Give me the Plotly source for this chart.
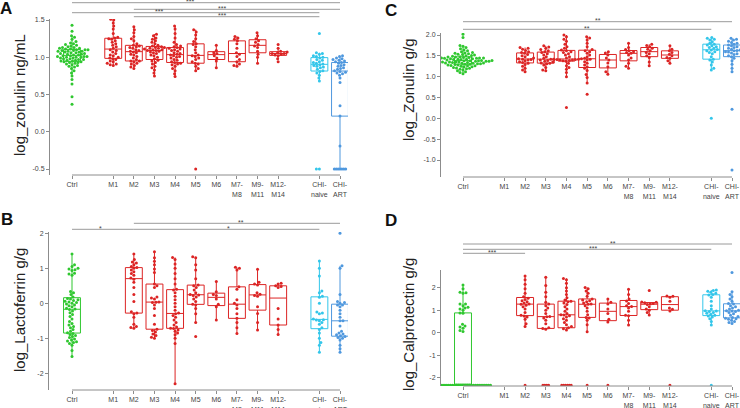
import plotly.graph_objects as go
from collections import Counter

W, H = 740, 408

cats = ["Ctrl", "M1", "M2", "M3", "M4", "M5", "M6", "M7-M8", "M9-M11", "M12-M14", "CHI-naive", "CHI-ART"]
cat_text = ["Ctrl", "M1", "M2", "M3", "M4", "M5", "M6", "M7-<br>M8", "M9-<br>M11", "M12-<br>M14", "CHI-<br>naive", "CHI-<br>ART"]
cat_pos = [0, 2, 3, 4, 5, 6, 7, 8, 9, 10, 12, 13]

GREEN, RED, CYAN, BLUE = "#2fc72f", "#dc2424", "#33c6ea", "#4f98de"
colors = [GREEN] + [RED] * 9 + [CYAN, BLUE]

# ---- A: log_zonulin ng/mL (serum)
a_ctrl = [0.37, 0.47, 0.64, 0.70, 0.75, 0.79, 0.82, 0.85, 0.87, 0.88, 0.89, 0.90, 0.91, 0.92, 0.93, 0.93, 0.94, 0.94,
          0.95, 0.95, 0.96, 0.96, 0.97, 0.97, 0.98, 0.98, 0.99, 0.99, 1.00, 1.00, 1.00, 1.01, 1.01, 1.01, 1.02, 1.02,
          1.03, 1.03, 1.04, 1.04, 1.05, 1.05, 1.06, 1.06, 1.07, 1.07, 1.08, 1.08, 1.08, 1.09, 1.09, 1.10, 1.10, 1.10,
          1.11, 1.11, 1.12, 1.12, 1.13, 1.13, 1.14, 1.15, 1.16, 1.17, 1.18, 1.19, 1.21, 1.24, 1.27, 1.29, 1.35, 1.43]
a_m1 = [0.89, 0.90, 0.91, 0.92, 0.94, 0.95, 0.97, 0.98, 0.99, 1.00, 1.02, 1.03, 1.05, 1.07, 1.09, 1.10,
        1.12, 1.14, 1.16, 1.18, 1.20, 1.22, 1.24, 1.25, 1.26, 1.27, 1.32, 1.38, 1.42, 1.46, 1.50, 1.51]
a_m2 = [0.85, 0.87, 0.89, 0.91, 0.92, 0.94, 0.95, 0.95, 0.97, 0.99, 1.01, 1.03, 1.04, 1.06, 1.07,
        1.08, 1.09, 1.10, 1.12, 1.13, 1.14, 1.15, 1.16, 1.18, 1.22, 1.25, 1.28, 1.33, 1.37, 1.41]
a_m3 = [0.75, 0.79, 0.83, 0.86, 0.88, 0.91, 0.93, 0.95, 0.96, 0.98, 1.00, 1.02, 1.03, 1.05, 1.06, 1.07, 1.08, 1.09,
        1.09, 1.10, 1.10, 1.11, 1.12, 1.12, 1.13, 1.13, 1.14, 1.15, 1.16, 1.18, 1.20, 1.22, 1.24, 1.26, 1.29, 1.31]
a_m4 = [0.74, 0.78, 0.82, 0.85, 0.88, 0.90, 0.91, 0.92, 0.93, 0.94, 0.96, 0.97, 0.99, 1.00, 1.01, 1.02, 1.03,
        1.04, 1.05, 1.06, 1.08, 1.09, 1.10, 1.11, 1.12, 1.13, 1.14, 1.15, 1.17, 1.20, 1.26, 1.32, 1.38, 1.42]
a_m5 = [-0.50, 0.82, 0.85, 0.88, 0.91, 0.92, 0.94, 0.97, 0.99, 1.01, 1.02,
        1.03, 1.06, 1.10, 1.14, 1.17, 1.18, 1.21, 1.25, 1.30, 1.34, 1.37]
a_m6 = [0.86, 0.95, 0.99, 1.02, 1.05, 1.06, 1.09, 1.16]
a_m7_8 = [0.88, 0.89, 0.91, 0.94, 0.97, 1.01, 1.04, 1.06, 1.12, 1.18, 1.22, 1.24, 1.26, 1.28]
a_m9_11 = [0.92, 1.00, 1.04, 1.08, 1.13, 1.15, 1.17, 1.20, 1.22, 1.25, 1.29, 1.33]
a_m12_14 = [0.94, 0.98, 1.02, 1.03, 1.04, 1.05, 1.05, 1.06, 1.07, 1.08, 1.12, 1.17]
a_chi_naive = [-0.50, -0.50, 0.68, 0.72, 0.76, 0.79, 0.81, 0.82, 0.84, 0.86, 0.87, 0.88, 0.89, 0.90,
               0.91, 0.92, 0.93, 0.94, 0.96, 0.97, 0.99, 1.00, 1.01, 1.02, 1.04, 1.05, 1.06, 1.32]
a_chi_art = [-0.50, -0.50, -0.50, -0.50, -0.50, -0.50, -0.50, -0.19, 0.21, 0.35, 0.66, 0.72, 0.76, 0.78, 0.79, 0.80,
             0.81, 0.82, 0.84, 0.85, 0.86, 0.88, 0.89, 0.90, 0.92, 0.93, 0.94, 0.95, 0.96, 0.97, 0.98, 0.99, 1.01, 1.02]

# ---- B: log_Lactoferrin g/g
b_ctrl = [-1.52, -1.35, -1.20, -1.15, -1.12, -1.10, -1.08, -1.05, -1.02, -0.98, -0.95, -0.92, -0.89, -0.86,
          -0.84, -0.80, -0.75, -0.70, -0.66, -0.62, -0.58, -0.52, -0.45, -0.38, -0.32, -0.27, -0.22, -0.18,
          -0.16, -0.14, -0.10, -0.07, -0.05, -0.02, 0.00, 0.02, 0.04, 0.06, 0.08, 0.10, 0.12, 0.14,
          0.18, 0.25, 0.30, 0.34, 0.80, 0.84, 0.86, 0.94, 0.96, 0.98, 1.00, 1.05, 1.10, 1.41]
b_m1 = []
b_m2 = [-0.71, -0.69, -0.66, -0.60, -0.40, -0.30, -0.28, -0.24, 0.05, 0.25, 0.45, 0.60, 0.69,
        0.72, 0.80, 0.85, 0.90, 0.95, 1.00, 1.02, 1.05, 1.10, 1.15, 1.18, 1.25, 1.41]
b_m3 = [-1.00, -0.97, -0.92, -0.88, -0.82, -0.78, -0.74, -0.60, -0.35, -0.15, -0.05, 0.02, 0.03,
        0.04, 0.12, 0.15, 0.18, 0.45, 0.50, 0.55, 0.88, 0.98, 1.10, 1.20, 1.30, 1.47]
b_m4 = [-2.30, -1.15, -1.00, -0.90, -0.85, -0.80, -0.76, -0.72, -0.71, -0.68, -0.62, -0.55, -0.48, -0.40, -0.35, -0.30,
        -0.28, -0.20, -0.10, 0.00, 0.10, 0.20, 0.30, 0.38, 0.40, 0.55, 0.70, 0.85, 1.00, 1.12, 1.25, 1.31]
b_m5 = [-0.95, -0.55, -0.30, -0.15, -0.05, -0.03, 0.05, 0.12, 0.18, 0.22, 0.24,
        0.25, 0.30, 0.38, 0.45, 0.50, 0.52, 0.70, 0.95, 1.10, 1.30, 1.33]
b_m6 = [-0.48, -0.10, -0.03, 0.12, 0.22, 0.25, 0.33, 0.62]
b_m7_8 = [-0.86, -0.70, -0.55, -0.43, -0.30, -0.15, -0.05, 0.00, 0.10, 0.40, 0.47, 0.95, 1.00, 1.03]
b_m9_11 = [-0.76, -0.55, -0.29, -0.10, 0.20, 0.22, 0.26, 0.30, 0.52, 0.55, 0.60, 0.97]
b_m12_14 = [-0.89, -0.75, -0.62, -0.45, -0.15, 0.45, 0.48, 0.50, 0.55, 0.57]
b_chi_naive = [-1.40, -1.20, -1.12, -1.00, -0.85, -0.75, -0.70, -0.60, -0.55, -0.50, -0.48, -0.47,
               -0.45, -0.30, -0.28, -0.25, 0.00, 0.17, 0.20, 0.30, 0.35, 0.78, 1.00, 1.21]
b_chi_art = [-1.40, -1.30, -1.20, -1.05, -1.00, -0.98, -0.95, -0.93, -0.90, -0.88, -0.85, -0.80, -0.65, -0.50,
             -0.50, -0.40, -0.30, -0.20, -0.10, -0.05, -0.05, 0.00, 0.02, 0.05, 0.25, 1.00, 1.07, 2.00]

# ---- C: log_Zonulin g/g (stool)
c_ctrl = [1.07, 1.10, 1.12, 1.14, 1.16, 1.18, 1.19, 1.20, 1.21, 1.22, 1.23, 1.24, 1.25, 1.26, 1.26, 1.27, 1.28, 1.28, 1.29, 1.30,
          1.30, 1.31, 1.31, 1.32, 1.32, 1.33, 1.33, 1.34, 1.34, 1.35, 1.35, 1.35, 1.36, 1.36, 1.37, 1.37, 1.37, 1.38, 1.38, 1.38,
          1.39, 1.39, 1.39, 1.40, 1.40, 1.41, 1.41, 1.42, 1.42, 1.43, 1.43, 1.44, 1.44, 1.45, 1.45, 1.45, 1.46, 1.46, 1.47, 1.47,
          1.48, 1.49, 1.50, 1.51, 1.52, 1.53, 1.54, 1.55, 1.56, 1.57, 1.58, 1.60, 1.62, 1.64, 1.67, 1.70, 1.73, 1.75, 1.94, 2.02]
c_m1 = []
c_m2 = [1.12, 1.16, 1.20, 1.25, 1.29, 1.32, 1.34, 1.36, 1.38, 1.40, 1.41, 1.42,
        1.43, 1.45, 1.48, 1.50, 1.53, 1.56, 1.58, 1.60, 1.63, 1.66, 1.68, 1.70]
c_m3 = [1.14, 1.16, 1.22, 1.28, 1.31, 1.32, 1.33, 1.35, 1.37, 1.39, 1.40, 1.42,
        1.42, 1.44, 1.48, 1.52, 1.55, 1.58, 1.60, 1.62, 1.65, 1.68, 1.71, 1.74]
c_m4 = [0.26, 1.00, 1.10, 1.18, 1.22, 1.26, 1.32, 1.37, 1.38, 1.39, 1.40, 1.40, 1.41, 1.41, 1.42, 1.42,
        1.43, 1.45, 1.48, 1.52, 1.55, 1.58, 1.60, 1.62, 1.64, 1.68, 1.72, 1.78, 1.85, 1.90, 1.96, 2.00]
c_m5 = [0.58, 0.85, 0.98, 1.05, 1.15, 1.20, 1.24, 1.28, 1.32, 1.36, 1.40, 1.42,
        1.44, 1.48, 1.52, 1.56, 1.60, 1.62, 1.65, 1.72, 1.80, 1.88, 1.93, 1.96]
c_m6 = [1.06, 1.12, 1.24, 1.33, 1.40, 1.45, 1.52, 1.57, 1.60]
c_m7_8 = [1.20, 1.25, 1.32, 1.40, 1.45, 1.52, 1.56, 1.58, 1.60, 1.62, 1.65, 1.70, 1.80]
c_m9_11 = [1.26, 1.35, 1.46, 1.50, 1.55, 1.58, 1.62, 1.66, 1.68, 1.72, 1.75, 1.78]
c_m12_14 = [1.32, 1.38, 1.44, 1.46, 1.50, 1.54, 1.58, 1.62, 1.66, 1.74]
c_chi_naive = [0.00, 1.16, 1.20, 1.28, 1.35, 1.40, 1.42, 1.48, 1.55, 1.58, 1.60, 1.62, 1.64,
               1.65, 1.68, 1.70, 1.72, 1.74, 1.76, 1.78, 1.80, 1.84, 1.88, 1.90, 1.92, 1.94]
c_chi_art = [-1.24, 0.22, 1.12, 1.20, 1.30, 1.38, 1.44, 1.48, 1.50, 1.53, 1.55, 1.57, 1.59, 1.60, 1.62,
             1.63, 1.64, 1.66, 1.68, 1.70, 1.72, 1.74, 1.76, 1.78, 1.80, 1.82, 1.85, 1.88, 1.90, 1.92]

# ---- D: log_Calprotectin g/g (-2.33 = below detection)
d_ctrl = [-2.33] * 30 + [0.05, 0.10, 0.20, 0.25, 0.30, 0.38, 0.86, 0.88, 1.00, 1.05,
                         1.10, 1.13, 1.20, 1.27, 1.28, 1.75, 1.78, 1.80, 1.95, 2.12]
d_m1 = []
d_m2 = [-2.33, 0.27, 0.40, 0.60, 0.70, 0.74, 0.78, 0.90, 1.05, 1.15, 1.22, 1.26,
        1.28, 1.32, 1.38, 1.42, 1.48, 1.53, 1.60, 1.75, 1.95, 2.15, 2.35, 2.52]
d_m3 = [-2.33] * 4 + [0.15, 0.19, 0.22, 0.40, 0.55, 0.65, 0.71, 0.72, 0.85, 1.00,
                      1.10, 1.20, 1.27, 1.35, 1.60, 1.80, 2.10, 2.46]
d_m4 = [-2.33] * 6 + [0.12, 0.18, 0.22, 0.27, 0.35, 0.45, 0.55, 0.62, 0.70, 0.75, 0.79, 0.80, 0.85, 0.95,
                      1.05, 1.15, 1.25, 1.32, 1.38, 1.40, 1.45, 1.55, 1.70, 1.85, 2.00, 2.20, 2.35, 2.41]
d_m5 = [-2.33, 0.04, 0.35, 0.55, 0.65, 0.68, 0.80, 0.95, 1.10, 1.20, 1.26,
        1.27, 1.32, 1.38, 1.42, 1.45, 1.50, 1.62, 1.75, 1.85, 1.95, 2.01]
d_m6 = [-2.33, 0.47, 0.60, 0.85, 1.05, 1.28, 1.35, 1.50]
d_m7_8 = [0.34, 0.55, 0.75, 0.77, 0.95, 1.10, 1.16, 1.20, 1.30, 1.41, 1.50, 1.70, 1.93]
d_m9_11 = [0.79, 0.90, 1.00, 1.05, 1.15, 1.25, 1.28, 1.30, 1.33, 1.35, 1.36, 1.87]
d_m12_14 = [-2.33, 0.96, 1.04, 1.10, 1.40, 1.58, 1.62, 1.63]
d_chi_naive = [-2.33, 0.34, 0.50, 0.62, 0.70, 0.74, 0.78, 0.82, 0.86, 0.90, 0.94, 0.96,
               0.98, 1.05, 1.20, 1.40, 1.58, 1.67, 1.70, 1.75, 1.80, 1.84, 1.88, 1.90]
d_chi_art = [0.41, 0.45, 0.50, 0.55, 0.60, 0.62, 0.64, 0.68, 0.72, 0.78, 0.84, 0.90, 0.94, 0.96,
             0.98, 1.00, 1.05, 1.10, 1.15, 1.20, 1.27, 1.30, 1.40, 1.50, 1.60, 1.70, 1.82, 2.67]

# significance comparisons (from, to, stars)
a_sig = [("Ctrl", "CHI-ART", "***"), ("M2", "CHI-ART", "***"), ("Ctrl", "CHI-naive", "***"), ("M2", "CHI-naive", "***")]
b_sig = [("Ctrl", "M2", "*"), ("M2", "CHI-ART", "**"), ("M2", "CHI-naive", "*")]
c_sig = [("Ctrl", "CHI-ART", "**"), ("Ctrl", "CHI-naive", "**")]
d_sig = [("Ctrl", "CHI-ART", "**"), ("Ctrl", "CHI-naive", "***"), ("Ctrl", "M2", "***")]


def px_x(p):
    return p / W


def px_y(p):
    return 1 - p / H


def swarm(vals, ppu_y, ppu_x, d=3.0, tie_gap=1.9):
    # simple beeswarm: tied rows spread flat, others placed greedily near the centre
    cnt = Counter(vals)
    placed, xs, ys = [], [], []
    for v, k in cnt.items():
        if k >= 4:
            for i in range(k):
                x = (i - (k - 1) / 2) * tie_gap
                placed.append((x, v * ppu_y))
                xs.append(x)
                ys.append(v)
    side = 1
    for v in sorted(vals):
        if cnt[v] >= 4:
            continue
        y = v * ppu_y
        near = [(px, py) for px, py in placed if abs(py - y) < d]
        x = 0.0
        for step in range(200):
            cands = [0.0] if step == 0 else [side * step * 0.5, -side * step * 0.5]
            hit = None
            for c in cands:
                if all((c - px) ** 2 + (y - py) ** 2 >= d * d for px, py in near):
                    hit = c
                    break
            if hit is not None:
                x = hit
                break
        side = -side
        placed.append((x, y))
        xs.append(x)
        ys.append(v)
    return [x / ppu_x for x in xs], ys


panels = [
    dict(xa="x", ya="y", data=[a_ctrl, a_m1, a_m2, a_m3, a_m4, a_m5, a_m6, a_m7_8, a_m9_11, a_m12_14, a_chi_naive, a_chi_art],
         xdom=(50, 348), x0px=72, x13px=340, ydom=(19, 175), yref=((20, 1.5), (169, -0.5)),
         yt=[-0.5, 0, 0.5, 1.0, 1.5], ytt=["-0.5", "0.0", "0.5", "1.0", "1.5"],
         title="log_zonulin ng/mL", tpos=(19, 95), letter="A", lpos=(6, 8),
         sig=a_sig, sig_y=[2.7, 9.3, 12.7, 16.7], sig_lx=[5.7, 7.3, 4.2, 7.3]),
    dict(xa="x2", ya="y2", data=[b_ctrl, b_m1, b_m2, b_m3, b_m4, b_m5, b_m6, b_m7_8, b_m9_11, b_m12_14, b_chi_naive, b_chi_art],
         xdom=(49, 348), x0px=72, x13px=340, ydom=(232, 390), yref=((233.3, 2), (373.3, -2)),
         yt=[-2, -1, 0, 1, 2], ytt=["-2", "-1", "0", "1", "2"],
         title="log_Lactoferrin g/g", tpos=(19, 310), letter="B", lpos=(7, 219),
         sig=b_sig, sig_y=[229.3, 223.3, 229.3], sig_lx=[1.4, 8.2, 7.6]),
    dict(xa="x3", ya="y3", data=[c_ctrl, c_m1, c_m2, c_m3, c_m4, c_m5, c_m6, c_m7_8, c_m9_11, c_m12_14, c_chi_naive, c_chi_art],
         xdom=(441, 740), x0px=463, x13px=732, ydom=(33, 177), yref=((35, 2.0), (160, -1.0)),
         yt=[-1.0, -0.5, 0, 0.5, 1.0, 1.5, 2.0], ytt=["-1.0", "-0.5", "0.0", "0.5", "1.0", "1.5", "2.0"],
         title="log_Zonulin g/g", tpos=(408, 90), letter="C", lpos=(391, 10),
         sig=c_sig, sig_y=[21.7, 29.3], sig_lx=[6.5, 6.0]),
    dict(xa="x4", ya="y4", data=[d_ctrl, d_m1, d_m2, d_m3, d_m4, d_m5, d_m6, d_m7_8, d_m9_11, d_m12_14, d_chi_naive, d_chi_art],
         xdom=(441, 740), x0px=463, x13px=732, ydom=(270, 386), yref=((287.7, 2), (377.7, -2)),
         yt=[-2, -1, 0, 1, 2], ytt=["-2", "-1", "0", "1", "2"],
         title="log_Calprotectin g/g", tpos=(408, 325), letter="D", lpos=(391, 221),
         sig=d_sig, sig_y=[244, 249.3, 253.3], sig_lx=[7.25, 6.3, 1.4]),
]

FONT = "Liberation Sans, Arial, sans-serif"
AXC = "#8c8c8c"

fig = go.Figure()
layout = dict(width=W, height=H, margin=dict(l=0, r=0, t=0, b=0, autoexpand=False), autosize=False,
              paper_bgcolor="white", plot_bgcolor="white", showlegend=False,
              font=dict(family=FONT, color="#333"))
shapes, annos = [], []

for p in panels:
    ppu_x = (p["x13px"] - p["x0px"]) / 13.0
    xr = [(p["xdom"][0] - p["x0px"]) / ppu_x, (p["xdom"][1] - p["x0px"]) / ppu_x]
    (p1, v1), (p2, v2) = p["yref"]
    ppu_y = (p2 - p1) / (v1 - v2)
    yr = [v1 - (p["ydom"][1] - p1) / ppu_y, v1 - (p["ydom"][0] - p1) / ppu_y]

    for i, vals in enumerate(p["data"]):
        if not vals:
            continue
        col = colors[i]
        fig.add_trace(go.Box(y=vals, x0=cat_pos[i], width=0.82, xaxis=p["xa"], yaxis=p["ya"],
                             boxpoints="outliers", marker=dict(opacity=0, size=1),
                             line=dict(color=col, width=1), fillcolor="rgba(0,0,0,0)",
                             whiskerwidth=0, hoverinfo="skip"))
        dx, yy = swarm(vals, ppu_y, ppu_x)
        fig.add_trace(go.Scatter(x=[cat_pos[i] + d for d in dx], y=yy, mode="markers",
                                 marker=dict(color=col, size=3.0, line=dict(width=0)),
                                 xaxis=p["xa"], yaxis=p["ya"], hoverinfo="skip"))

    xkey = "xaxis" + p["xa"][1:]
    ykey = "yaxis" + p["ya"][1:]
    layout[xkey] = dict(domain=[px_x(p["xdom"][0]), px_x(p["xdom"][1])], range=xr, type="linear",
                        anchor=p["ya"], tickvals=cat_pos, ticktext=cat_text, ticks="outside",
                        ticklen=3, tickcolor=AXC, showline=False, showgrid=False, zeroline=False,
                        automargin=False, tickfont=dict(size=7, color="#444"), tickangle=0)
    layout[ykey] = dict(domain=[px_y(p["ydom"][1]), px_y(p["ydom"][0])], range=yr,
                        anchor=p["xa"], tickvals=p["yt"], ticktext=p["ytt"], ticks="outside",
                        ticklen=3, tickcolor=AXC, showline=True, linecolor=AXC, linewidth=1,
                        automargin=False, showgrid=False, zeroline=False, tickfont=dict(size=7, color="#444"))
    # offset x axis line from first to last group
    shapes.append(dict(type="line", xref=p["xa"], yref=p["ya"] + " domain", x0=cat_pos[0], x1=cat_pos[-1],
                       y0=0, y1=0, line=dict(color=AXC, width=1)))
    # significance bars
    for (c0, c1, stars), sy, lx in zip(p["sig"], p["sig_y"], p["sig_lx"]):
        shapes.append(dict(type="line", xref=p["xa"], yref="paper",
                           x0=cat_pos[cats.index(c0)], x1=cat_pos[cats.index(c1)],
                           y0=px_y(sy), y1=px_y(sy), line=dict(color="#9a9a9a", width=1)))
        annos.append(dict(text=stars, xref=p["xa"], yref="paper", x=lx, y=px_y(sy - 1),
                          yanchor="middle", xanchor="center", showarrow=False,
                          font=dict(size=7, color="#444")))
    annos.append(dict(text=p["title"], xref="paper", yref="paper", x=px_x(p["tpos"][0]), y=px_y(p["tpos"][1]),
                      textangle=-90, showarrow=False, xanchor="center", yanchor="middle",
                      font=dict(size=15, color="#222")))
    annos.append(dict(text="<b>" + p["letter"] + "</b>", xref="paper", yref="paper",
                      x=px_x(p["lpos"][0]), y=px_y(p["lpos"][1]), showarrow=False,
                      xanchor="center", yanchor="middle", font=dict(size=17, color="#111")))

layout["shapes"] = shapes
layout["annotations"] = annos
fig.update_layout(**layout)
# page body has a default 8px margin; drop it so the 740x408 figure fills the window
fig.write_html("out.html", config={"displayModeBar": False},
               post_script="document.body.style.margin='0px';document.body.style.overflow='hidden';")
